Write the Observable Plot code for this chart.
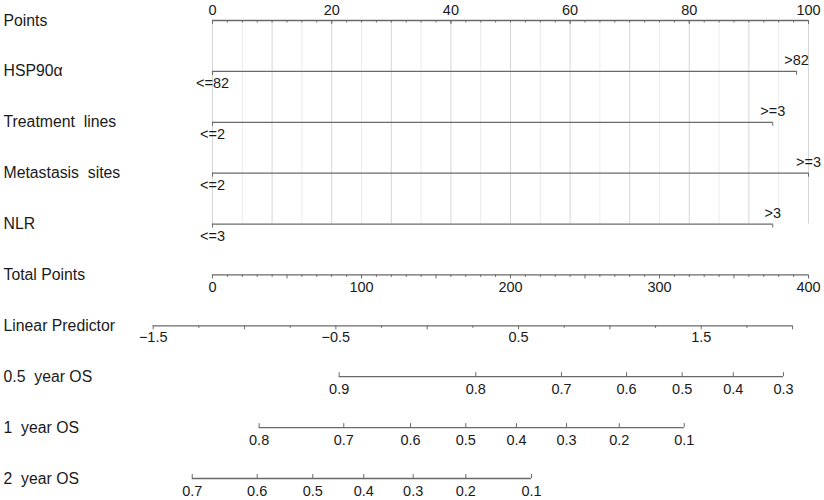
<!DOCTYPE html>
<html><head><meta charset="utf-8">
<script src="https://cdn.jsdelivr.net/npm/d3@7"></script>
<script src="https://cdn.jsdelivr.net/npm/@observablehq/plot@0.6"></script>
<style>
body{margin:0;background:#fff;}
svg text{white-space:pre;}
</style></head><body><div id="chart"></div>
<script>
// ---- data ----
const rowNames = ["Points","HSP90α","Treatment  lines","Metastasis  sites","NLR","Total Points","Linear Predictor","0.5  year OS","1  year OS","2  year OS"];
const pointsLabels = [0,20,40,60,80,100];
const hspLevels = ["<=82",">82"];   const hspPoints = [0,98];
const treatLevels = ["<=2",">=3"];  const treatPoints = [0,94];
const metaLevels = ["<=2",">=3"];   const metaPoints = [0,100];
const nlrLevels = ["<=3",">3"];     const nlrPoints = [0,94];
const totalLabels = [0,100,200,300,400];
const lpLabels = [-1.5,-0.5,0.5,1.5];
const lpRange = [-1.5,2.0];
const lpIntercept = 144.1;   // total points at LP = 0
const lpSlope = 122.6;       // total points per LP unit
const os05Labels = [0.9,0.8,0.7,0.6,0.5,0.4,0.3];
const os05Total  = [85.0,176.7,234.2,277.9,315.2,349.5,383.2];
const os1Labels  = [0.8,0.7,0.6,0.5,0.4,0.3,0.2,0.1];
const os1Total   = [31.3,88.1,132.9,170.0,204.0,237.6,273.0,316.6];
const os2Labels  = [0.7,0.6,0.5,0.4,0.3,0.2,0.1];
const os2Total   = [-13.6,30.0,67.3,101.5,134.7,170.0,214.1];

// ---- build tables ----
const marginTop = 20, marginBottom = 22, height = 500;
const rowStep = (height - marginTop - marginBottom) / (rowNames.length - 1);
const tp2p = t => t / 4;               // total points -> points scale
const lp2p = v => tp2p(lpIntercept + lpSlope * v);
const fmt = v => String(v).replace("-", "\u2212");

const spans = [], ticks = [], labels = [];
// Points row
spans.push({row:0, x1:0, x2:100});
d3.range(0, 100.01, 2.5).forEach(v => ticks.push({row:0, x:v, len:-2.5}));
pointsLabels.forEach(v => { ticks.push({row:0, x:v, len:-4}); labels.push({row:0, x:v, text:String(v), pos:"above"}); });
// variables
[[hspLevels,hspPoints],[treatLevels,treatPoints],[metaLevels,metaPoints],[nlrLevels,nlrPoints]].forEach(([lv,pt],k) => {
  const row = k + 1;
  spans.push({row, x1:d3.min(pt), x2:d3.max(pt)});
  lv.forEach((l,i) => {
    const above = i === lv.length - 1;
    ticks.push({row, x:pt[i], len:-4});
    labels.push({row, x:pt[i], text:l, pos: above ? "above" : "below"});
  });
});
// Total points
spans.push({row:5, x1:0, x2:100});
d3.range(0, 400.01, 10).forEach(v => ticks.push({row:5, x:tp2p(v), len: v % 50 === 0 ? -4 : -2.5}));
totalLabels.forEach(v => labels.push({row:5, x:tp2p(v), text:String(v), pos:"below"}));
// Linear predictor
spans.push({row:6, x1:lp2p(lpRange[0]), x2:lp2p(lpRange[1])});
d3.range(lpRange[0], lpRange[1] + 0.001, 0.25).forEach(v => ticks.push({row:6, x:lp2p(v), len: Math.abs(v*2 - Math.round(v*2)) < 1e-6 ? -4 : -2.5}));
lpLabels.forEach(v => labels.push({row:6, x:lp2p(v), text:fmt(v), pos:"below"}));
// survival axes
[[os05Labels,os05Total],[os1Labels,os1Total],[os2Labels,os2Total]].forEach(([lb,tt],k) => {
  const row = 7 + k;
  spans.push({row, x1:tp2p(d3.min(tt)), x2:tp2p(d3.max(tt))});
  lb.forEach((l,i) => {
    ticks.push({row, x:tp2p(tt[i]), len:4});
    labels.push({row, x:tp2p(tt[i]), text:String(l), pos:"below"});
  });
});

const gridMinor = d3.range(0, 100.01, 5).filter(v => v % 10 !== 0);
const gridMajor = d3.range(0, 100.01, 10);

const textOpts = {x: "x", y: "row", text: "text", fontSize: 14.5, fill: "#1a1a1a", lineAnchor: "middle"};
const chart = Plot.plot({
  width: 824, height, marginLeft: 212, marginRight: 16, marginTop, marginBottom,
  style: {fontFamily: "'Liberation Sans', Arial, Helvetica, sans-serif", background: "#fff"},
  x: {domain: [0, 100], axis: null},
  y: {domain: [rowNames.length - 1, 0], axis: null},
  marks: [
    Plot.ruleX(gridMinor, {x: d => d, y1: 0, y2: 4, stroke: "#ececec", strokeWidth: 1}),
    Plot.ruleX(gridMajor, {x: d => d, y1: 0, y2: 4, stroke: "#d6d6d6", strokeWidth: 1}),
    Plot.ruleY(spans, {y: "row", x1: "x1", x2: "x2", stroke: "#6a6a6a", strokeWidth: 1.3}),
    Plot.ruleX(ticks, {x: "x", y1: "row", y2: d => d.row - d.len / rowStep, stroke: "#6a6a6a", strokeWidth: 1}),
    Plot.text(labels.filter(d => d.row === 0), {...textOpts, dy: -10}),
    Plot.text(labels.filter(d => d.row > 0 && d.pos === "above"), {...textOpts, dy: -11}),
    Plot.text(labels.filter(d => d.row > 0 && d.row < 5 && d.pos === "below"), {...textOpts, dy: 12}),
    Plot.text(labels.filter(d => d.row >= 5 && d.row <= 6), {...textOpts, dy: 12}),
    Plot.text(labels.filter(d => d.row >= 7), {...textOpts, dy: 13}),
    Plot.text(rowNames, {y: (d, i) => i, text: d => d, frameAnchor: "left", dx: -209, textAnchor: "start", fontSize: 15.8, fill: "#1a1a1a"})
  ]
});
document.getElementById("chart").appendChild(chart);
</script></body></html>
